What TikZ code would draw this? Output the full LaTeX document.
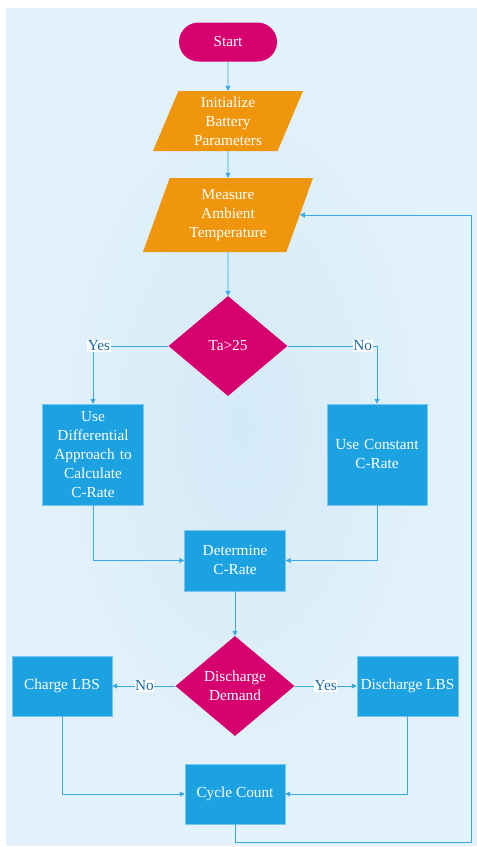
\documentclass[tikz,border=0pt]{standalone}
\usepackage{fontspec}
\setmainfont{Liberation Serif}
\usepackage{xcolor}
\usepackage{tikz}
\usetikzlibrary{shapes,arrows,positioning,calc,arrows.meta}

\definecolor{bgin}{HTML}{D4EAF7}
\definecolor{bgout}{HTML}{E4F3FB}
\definecolor{termcol}{HTML}{D6006F}
\definecolor{iocol}{HTML}{F0960C}
\definecolor{proccol}{HTML}{1CA1E1}
\definecolor{linecol}{HTML}{3AAAE0}
\definecolor{labcol}{HTML}{1E6A9E}

\tikzset{
    base/.style={text=white, font=\rmfamily\fontsize{15.3}{19}\selectfont, align=center, inner sep=1pt},
    term/.style={base, rounded rectangle, fill=termcol, minimum width=100pt, minimum height=39pt},
    io/.style={base, trapezium, trapezium left angle=63.4, trapezium right angle=116.6,
        trapezium stretches body, fill=iocol},
    proc/.style={base, rectangle, fill=proccol, draw=proccol!60!white, line width=0.4pt},
    decide/.style={base, diamond, fill=termcol, aspect=1.19, minimum width=119pt, minimum height=100pt, inner sep=0pt},
    line/.style={draw=linecol, line width=0.8pt, -{Triangle[length=5pt,width=5pt]}},
    lab/.style={fill=white, text=labcol, font=\rmfamily\fontsize{15.3}{17}\selectfont, inner sep=0.5pt}
}

\begin{document}
\begin{tikzpicture}[x=1pt, y=-1pt]
    \useasboundingbox (0,0) rectangle (477,847);
    % Background
    \shade[inner color=bgin, outer color=bgout] (6,8) rectangle (477,845);

    % Start and input blocks
    \node[term] (start) at (228,42) {Start};
    \node[io, minimum width=150pt, minimum height=60pt] (init) at (228,121) {Initialize\\Battery\\Parameters};
    \node[io, minimum width=170pt, minimum height=74pt] (meas) at (228,215) {Measure\\Ambient\\Temperature};

    % Temperature check
    \node[decide] (ta) at (228,346) {Ta\textgreater25};
    \node[proc, minimum width=101pt, minimum height=101pt, text width=92pt] (diff) at (93,454.5) {Use\\Differential\\Approach to\\Calculate\\C-Rate};
    \node[proc, minimum width=100pt, minimum height=101pt, text width=92pt] (const) at (377,454.5) {Use Constant\\C-Rate};
    \node[proc, minimum width=101pt, minimum height=61pt] (det) at (235,560.5) {Determine\\C-Rate};

    % Discharge check
    \node[decide] (dd) at (235,686) {Discharge\\Demand};
    \node[proc, minimum width=100pt, minimum height=60pt] (chg) at (62,686) {Charge LBS};
    \node[proc, minimum width=101pt, minimum height=60pt] (dis) at (407.5,686) {Discharge LBS};
    \node[proc, minimum width=100pt, minimum height=60pt] (cyc) at (235,794) {Cycle Count};
    \coordinate (loop) at (471,842);

    % Connectors
    \draw[line] (start) -- (init);
    \draw[line] (init) -- (meas);
    \draw[line] (meas) -- (ta);
    \draw[line] (ta.west) -| node[lab, pos=0.46] {Yes} (diff.north);
    \draw[line] (ta.east) -| node[lab, pos=0.42] {No} (const.north);
    \draw[line] (diff.south) |- (det.west);
    \draw[line] (const.south) |- (det.east);
    \draw[line] (det) -- (dd);
    \draw[line] (dd.west) -- node[lab, pos=0.49] {No} (chg.east);
    \draw[line] (dd.east) -- node[lab, pos=0.5] {Yes} (dis.west);
    \draw[line] (chg.south) |- (cyc.west);
    \draw[line] (dis.south) |- (cyc.east);
    \draw[line] (cyc.south) |- (loop) |- (meas.east);
\end{tikzpicture}
\end{document}
